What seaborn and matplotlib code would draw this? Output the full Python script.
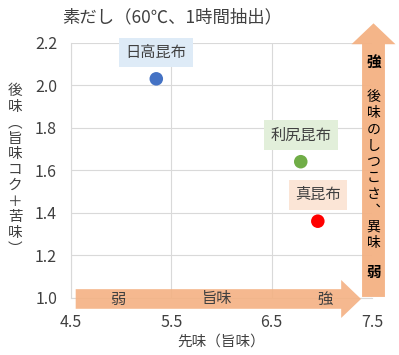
import matplotlib
matplotlib.use("Agg")
import matplotlib.pyplot as plt
from matplotlib.patches import FancyArrow
import pandas as pd
import seaborn as sns

# data
kombu = ["日高昆布", "利尻昆布", "真昆布"]
senmi = [5.35, 6.79, 6.96]      # 先味（旨味）
atoaji = [2.03, 1.64, 1.36]     # 後味（旨味コク+苦味）
dot_colors = ["#4472C4", "#70AD47", "#FF0000"]
box_colors = ["#DEEBF7", "#E2EFDA", "#FBE5D6"]
x_ticks = [4.5, 5.5, 6.5, 7.5]
y_ticks = [1.0, 1.2, 1.4, 1.6, 1.8, 2.0, 2.2]

df = pd.DataFrame({"kombu": kombu, "senmi": senmi, "atoaji": atoaji})

sns.set_theme(style="whitegrid")
plt.rcParams['font.family'] = ['Noto Sans CJK JP', 'DejaVu Sans']
TXT = "#404040"
ARROW = "#F4B183"

fig = plt.figure(figsize=(3.99, 3.55), dpi=100)
ax = fig.add_axes([71 / 399, 1 - 297.7 / 355, 301 / 399, 255 / 355])

sns.scatterplot(data=df, x="senmi", y="atoaji", hue="kombu", palette=dot_colors,
                s=95, edgecolor="none", legend=False, ax=ax, zorder=4)

for name, x, y, bc in zip(kombu, senmi, atoaji, box_colors):
    ax.annotate(name, (x, y), xytext=(0, 19), textcoords="offset points",
                ha="center", va="center", fontsize=11, color=TXT, zorder=5,
                bbox=dict(boxstyle="square,pad=0.42", fc=bc, ec="none"))

ax.set_xlim(4.5, 7.5)
ax.set_ylim(1.0, 2.2)
ax.set_xticks(x_ticks)
ax.set_yticks(y_ticks)
ax.set_xticklabels([f"{v:.1f}" for v in x_ticks])
ax.set_yticklabels([f"{v:.1f}" for v in y_ticks])
ax.tick_params(axis="x", pad=12, labelsize=11.5, colors=TXT, length=0)
ax.tick_params(axis="y", pad=10, labelsize=11.5, colors=TXT, length=0)
ax.grid(True, color="#D9D9D9", linewidth=0.8)
for sp in ax.spines.values():
    sp.set_color("#D9D9D9")
    sp.set_linewidth(0.8)
ax.spines["top"].set_visible(False)
ax.spines["right"].set_visible(False)

ax.set_xlabel("先味（旨味）", fontsize=10.5, color=TXT, labelpad=2)
ylab = ["後", "味", "︵", "旨", "味", "コ", "ク", "＋", "苦", "味", "︶"]
ax.set_ylabel("\n".join(ylab), rotation=0, fontsize=10.5, color=TXT,
              linespacing=1.16, va="center", ha="center")
ax.yaxis.set_label_coords(-0.185, 0.5)

# horizontal arrow (先味)
ax.add_patch(FancyArrow(0.0156, -0.005, 0.948, 0, width=0.077, head_width=0.149,
                        head_length=0.066, length_includes_head=True,
                        transform=ax.transAxes, clip_on=False, color=ARROW,
                        alpha=0.9, lw=0, zorder=3))
for t, xf in zip(["弱", "旨味", "強"], [0.156, 0.485, 0.843]):
    ax.text(xf, -0.005, t, transform=ax.transAxes, ha="center", va="center",
            fontsize=11, color=TXT, zorder=6)

# vertical arrow (後味)
ax.add_patch(FancyArrow(1.005, 0.003, 0, 1.073, width=0.076, head_width=0.146,
                        head_length=0.082, length_includes_head=True,
                        transform=ax.transAxes, clip_on=False, color=ARROW,
                        alpha=0.95, lw=0, zorder=3))
vcol = list("後味のしつこさ") + ["︑", "異", "味"]
ax.text(1.005, 1 - (62 - 42.7) / 255, "強", transform=ax.transAxes, ha="center",
        va="center", fontsize=10.5, fontweight="bold", color="black", zorder=6)
ax.text(1.005, 1 - (170 - 42.7) / 255, "\n".join(vcol), transform=ax.transAxes,
        ha="center", va="center", fontsize=10, color="black", linespacing=1.2,
        zorder=6)
ax.text(1.005, 1 - (272 - 42.7) / 255, "弱", transform=ax.transAxes, ha="center",
        va="center", fontsize=10.5, fontweight="bold", color="black", zorder=6)

fig.text(62 / 399, 1 - 17 / 355, "素だし（60℃、1時間抽出）", ha="left", va="center",
         fontsize=12.5, color=TXT)

fig.savefig("out.png", dpi=100)
